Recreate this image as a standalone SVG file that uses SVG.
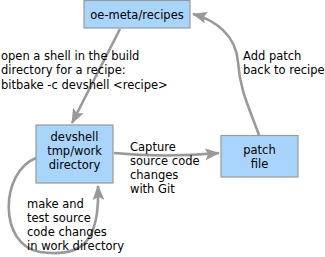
<svg xmlns="http://www.w3.org/2000/svg" width="325" height="257" viewBox="0 0 325 257">
<style>
.box{fill:#a9d4fc;stroke:#9a9a9a;stroke-width:1.2}
.t{font-family:"DejaVu Sans",sans-serif;font-size:11.5px;fill:#000}
.c{text-anchor:middle}
.conn{fill:none;stroke:#999;stroke-width:2.6;marker-end:url(#ah)}
</style>
<defs>
<marker id="ah" markerUnits="userSpaceOnUse" markerWidth="16" markerHeight="12" refX="14" refY="6" orient="auto">
<path d="M0,0 L15,6 L0,12 L3,6 z" fill="#999"/>
</marker>
</defs>
<g id="connectors">
<path class="conn" d="M120,29 L72,123"/>
<path class="conn" d="M114,153 Q165,158 219,153"/>
<path class="conn" d="M259,135 C248,105 240,90 238,62 C236,35 215,20 193,14"/>
<path class="conn" d="M36,158 C0,172 -2,245 40,252 C82,258 100,242 98,186"/>
</g>
<g id="oe-meta">
<rect class="box" x="84" y="0.5" width="106" height="27.5"/>
<text class="t c" x="137" y="19">oe-meta/recipes</text>
</g>
<g id="devshell">
<rect class="box" x="36" y="125" width="77" height="58"/>
<text class="t c" x="74.5" y="141">devshell</text>
<text class="t c" x="74.5" y="155">tmp/work</text>
<text class="t c" x="74.5" y="169">directory</text>
</g>
<g id="patch">
<rect class="box" x="221" y="135.5" width="77" height="41.5"/>
<text class="t c" x="259.5" y="154">patch</text>
<text class="t c" x="259.5" y="168">file</text>
</g>
<g id="labels">
<text class="t" x="1" y="59.5">open a shell in the build</text>
<text class="t" x="1" y="74">directory for a recipe:</text>
<text class="t" x="1" y="88.5">bitbake -c devshell &lt;recipe&gt;</text>
<text class="t" x="243" y="60">Add patch</text>
<text class="t" x="243" y="74">back to recipe</text>
<text class="t" x="130" y="151">Capture</text>
<text class="t" x="130" y="165">source code</text>
<text class="t" x="130" y="179">changes</text>
<text class="t" x="130" y="193">with Git</text>
<text class="t" x="27" y="207.5">make and</text>
<text class="t" x="27" y="221.5">test source</text>
<text class="t" x="27" y="235.5">code changes</text>
<text class="t" x="27" y="249.5">in work directory</text>
</g>
</svg>
